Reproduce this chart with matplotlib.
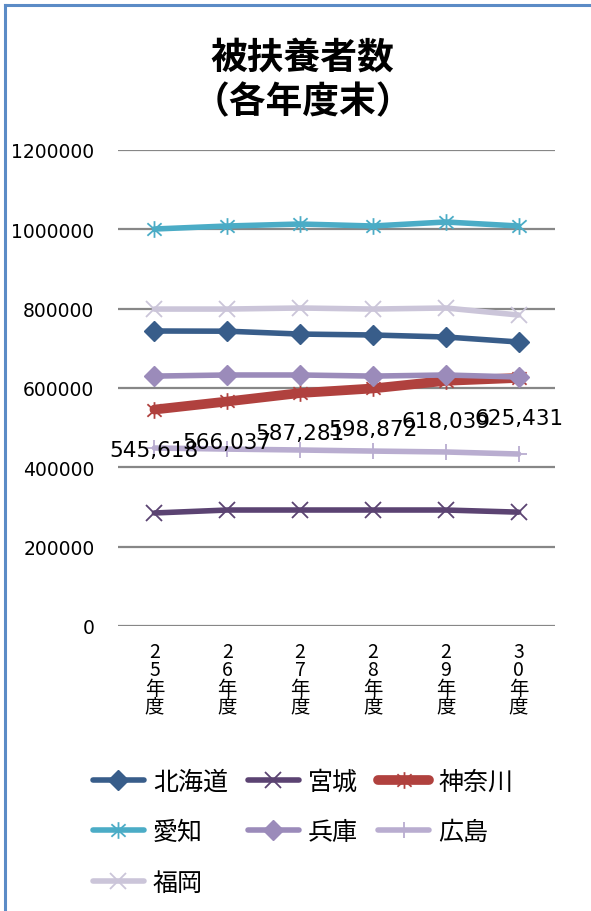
import matplotlib
matplotlib.use("Agg")
import matplotlib.pyplot as plt
from matplotlib.lines import Line2D
from matplotlib.path import Path
from matplotlib.markers import MarkerStyle

plt.rcParams["font.family"] = ["Noto Sans CJK JP", "DejaVu Sans"]

# -------------------------
# Data
# -------------------------
years = ["25年度", "26年度", "27年度", "28年度", "29年度", "30年度"]

hokkaido = [743700, 743200, 736000, 733600, 728600, 716000]
miyagi = [284900, 292400, 292400, 292400, 292400, 287000]
kanagawa = [545618, 566037, 587281, 598872, 618039, 625431]
aichi = [1000800, 1008400, 1013400, 1008400, 1018500, 1008400]
hyogo = [630000, 632800, 632800, 630000, 632800, 627700]
hiroshima = [448700, 446000, 443700, 441000, 438700, 433600]
fukuoka = [799000, 799000, 801700, 799000, 801700, 784000]

names = ["北海道", "宮城", "神奈川", "愛知", "兵庫", "広島", "福岡"]
yticks = [0, 200000, 400000, 600000, 800000, 1000000, 1200000]

# asterisk marker: vertical bar + x
star = MarkerStyle(Path(
    [(0, -1), (0, 1), (-0.85, -0.75), (0.85, 0.75), (-0.85, 0.75), (0.85, -0.75)],
    [Path.MOVETO, Path.LINETO, Path.MOVETO, Path.LINETO, Path.MOVETO, Path.LINETO],
))

series = [
    (hokkaido, "#385d8a", "D", 10, 4.0, 1.0),
    (miyagi, "#5b4372", "x", 11, 4.0, 1.3),
    (kanagawa, "#b0413e", star, 12, 7.0, 1.3),
    (aichi, "#4bacc6", star, 12, 4.0, 1.3),
    (hyogo, "#9b8bba", "D", 10, 4.0, 1.0),
    (hiroshima, "#b9add0", "+", 11, 4.0, 1.3),
    (fukuoka, "#cbc5d9", "x", 11, 4.0, 1.3),
]

fig = plt.figure(figsize=(5.91, 9.12), dpi=100)
ax = fig.add_axes([118 / 591, 1 - 627 / 912, (555 - 118) / 591, (627 - 151) / 912])

x = list(range(len(years)))
handles = []
for (vals, color, marker, ms, lw, mew), name in zip(series, names):
    (h,) = ax.plot(x, vals, color=color, lw=lw, marker=marker, markersize=ms,
                   markerfacecolor=color, markeredgecolor=color, markeredgewidth=mew,
                   solid_capstyle="round", label=name)
    handles.append(h)

# data labels for 神奈川 (they overlap in the original too)
for xi, v in zip(x, kanagawa):
    ax.annotate(f"{v:,}", (xi, v), xytext=(0, -29), textcoords="offset points",
                ha="center", va="center", fontsize=15.5, family="DejaVu Sans", zorder=10)

ax.set_xlim(-0.5, len(years) - 0.5)
ax.set_ylim(0, 1200000)
ax.set_yticks(yticks)
ax.set_yticklabels([str(t) for t in yticks], family="DejaVu Sans", fontsize=13.5)
ax.yaxis.grid(True, color="#878787", lw=1.6)
ax.set_axisbelow(True)
for s in ax.spines.values():
    s.set_visible(False)
ax.tick_params(axis="both", length=0)
ax.tick_params(axis="y", pad=17)
ax.set_xticks(x)
ax.set_xticklabels(["\n".join(list(y)) for y in years], fontsize=14,
                   linespacing=0.82, va="top")
ax.tick_params(axis="x", pad=11)

# title
fig.text(0.512, 1 - 58 / 912, "被扶養者数", ha="center", va="center",
         fontsize=26.5, fontweight="bold")
fig.text(0.512, 1 - 103 / 912, "（各年度末）", ha="center", va="center",
         fontsize=26.5, fontweight="bold")

# legend: row-major order via blank fillers
blank = Line2D([], [], alpha=0)
order = [handles[0], handles[3], handles[6], handles[1], handles[4], blank,
         handles[2], handles[5], blank]
labels = [h.get_label() if h is not blank else "" for h in order]
fig.legend(order, labels, ncol=3, loc="upper left",
           bbox_to_anchor=(70 / 591, 1 - 747 / 912), frameon=False,
           fontsize=18, handlelength=2.05, handletextpad=0.36,
           columnspacing=0.8, labelspacing=0.98)

# chart frame (left and top edges visible)
fig.add_artist(Line2D([5 / 591, 5 / 591], [0, 1 - 6 / 912], color="#5b8bc6", lw=2.2))
fig.add_artist(Line2D([5 / 591, 1], [1 - 6 / 912, 1 - 6 / 912], color="#5b8bc6", lw=2.2))

fig.savefig("out.png", dpi=100)
